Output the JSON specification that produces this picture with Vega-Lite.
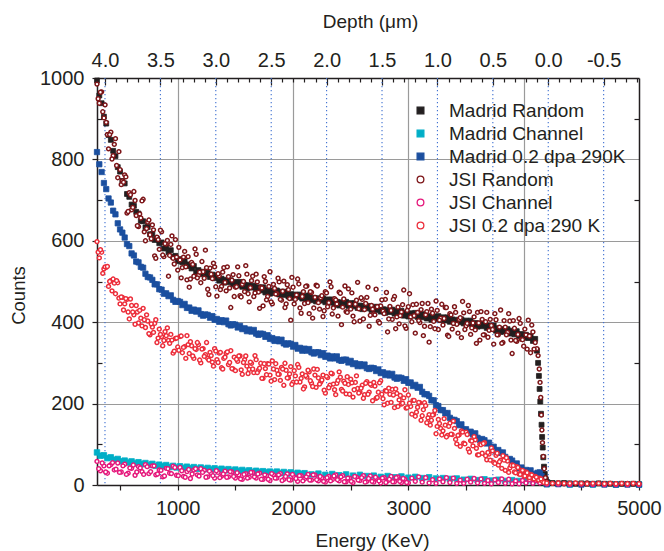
{
"$schema": "https://vega.github.io/schema/vega-lite/v6.json",
"width": 542, "height": 407,
"autosize": "none",
"padding": {"left": 97, "top": 78, "right": 25, "bottom": 66},
"config": {
  "font": "Liberation Sans",
  "view": {"stroke": null},
  "axis": {"domainColor": "#231f20", "domainWidth": 1.5, "tickColor": "#231f20", "tickWidth": 1.2, "labelFont": "Liberation Sans", "labelFontSize": 20, "labelColor": "#231f20", "titleFont": "Liberation Sans", "titleFontSize": 19, "titleFontWeight": "normal", "titleColor": "#231f20", "grid": false, "labelFlush": false, "labelOverlap": false, "labelBound": false}
},
"datasets": {
"depth": [{"d":4.0},{"d":3.5},{"d":3.0},{"d":2.5},{"d":2.0},{"d":1.5},{"d":1.0},{"d":0.5},{"d":0.0},{"d":-0.5}],
"mr": [{"e":300,"c":994},{"e":320,"c":957},{"e":340,"c":938},{"e":360,"c":905},{"e":380,"c":888},{"e":400,"c":860},{"e":420,"c":848},{"e":440,"c":821},{"e":460,"c":808},{"e":480,"c":781},{"e":500,"c":770},{"e":520,"c":747},{"e":540,"c":741},{"e":560,"c":715},{"e":580,"c":708},{"e":600,"c":689},{"e":620,"c":686},{"e":640,"c":671},{"e":660,"c":667},{"e":680,"c":649},{"e":700,"c":648},{"e":720,"c":633},{"e":740,"c":634},{"e":760,"c":616},{"e":780,"c":616},{"e":800,"c":602},{"e":820,"c":605},{"e":840,"c":594},{"e":860,"c":596},{"e":880,"c":581},{"e":900,"c":584},{"e":920,"c":572},{"e":940,"c":577},{"e":960,"c":561},{"e":980,"c":563},{"e":1000,"c":550},{"e":1020,"c":555},{"e":1040,"c":547},{"e":1060,"c":550},{"e":1080,"c":538},{"e":1100,"c":542},{"e":1120,"c":532},{"e":1140,"c":538},{"e":1160,"c":524},{"e":1180,"c":528},{"e":1200,"c":518},{"e":1220,"c":524},{"e":1240,"c":517},{"e":1260,"c":522},{"e":1280,"c":511},{"e":1300,"c":517},{"e":1320,"c":508},{"e":1340,"c":515},{"e":1360,"c":502},{"e":1380,"c":507},{"e":1400,"c":497},{"e":1420,"c":504},{"e":1440,"c":498},{"e":1460,"c":503},{"e":1480,"c":493},{"e":1500,"c":499},{"e":1520,"c":491},{"e":1540,"c":499},{"e":1560,"c":487},{"e":1580,"c":492},{"e":1600,"c":483},{"e":1620,"c":491},{"e":1640,"c":485},{"e":1660,"c":490},{"e":1680,"c":480},{"e":1700,"c":486},{"e":1720,"c":478},{"e":1740,"c":486},{"e":1760,"c":473},{"e":1780,"c":479},{"e":1800,"c":470},{"e":1820,"c":478},{"e":1840,"c":472},{"e":1860,"c":478},{"e":1880,"c":468},{"e":1900,"c":475},{"e":1920,"c":467},{"e":1940,"c":475},{"e":1960,"c":463},{"e":1980,"c":469},{"e":2000,"c":460},{"e":2020,"c":468},{"e":2040,"c":462},{"e":2060,"c":468},{"e":2080,"c":458},{"e":2100,"c":465},{"e":2120,"c":457},{"e":2140,"c":466},{"e":2160,"c":454},{"e":2180,"c":460},{"e":2200,"c":451},{"e":2220,"c":459},{"e":2240,"c":453},{"e":2260,"c":459},{"e":2280,"c":449},{"e":2300,"c":456},{"e":2320,"c":448},{"e":2340,"c":456},{"e":2360,"c":444},{"e":2380,"c":450},{"e":2400,"c":441},{"e":2420,"c":449},{"e":2440,"c":443},{"e":2460,"c":450},{"e":2480,"c":440},{"e":2500,"c":447},{"e":2520,"c":439},{"e":2540,"c":447},{"e":2560,"c":435},{"e":2580,"c":441},{"e":2600,"c":432},{"e":2620,"c":440},{"e":2640,"c":434},{"e":2660,"c":440},{"e":2680,"c":430},{"e":2700,"c":438},{"e":2720,"c":430},{"e":2740,"c":438},{"e":2760,"c":426},{"e":2780,"c":432},{"e":2800,"c":423},{"e":2820,"c":431},{"e":2840,"c":425},{"e":2860,"c":431},{"e":2880,"c":421},{"e":2900,"c":428},{"e":2920,"c":420},{"e":2940,"c":428},{"e":2960,"c":416},{"e":2980,"c":423},{"e":3000,"c":414},{"e":3020,"c":422},{"e":3040,"c":416},{"e":3060,"c":423},{"e":3080,"c":413},{"e":3100,"c":420},{"e":3120,"c":412},{"e":3140,"c":420},{"e":3160,"c":409},{"e":3180,"c":415},{"e":3200,"c":406},{"e":3220,"c":414},{"e":3240,"c":408},{"e":3260,"c":415},{"e":3280,"c":405},{"e":3300,"c":412},{"e":3320,"c":404},{"e":3340,"c":412},{"e":3360,"c":401},{"e":3380,"c":407},{"e":3400,"c":398},{"e":3420,"c":406},{"e":3440,"c":400},{"e":3460,"c":407},{"e":3480,"c":397},{"e":3500,"c":404},{"e":3520,"c":396},{"e":3540,"c":404},{"e":3560,"c":392},{"e":3580,"c":398},{"e":3600,"c":389},{"e":3620,"c":397},{"e":3640,"c":390},{"e":3660,"c":396},{"e":3680,"c":386},{"e":3700,"c":392},{"e":3720,"c":384},{"e":3740,"c":392},{"e":3760,"c":379},{"e":3780,"c":385},{"e":3800,"c":376},{"e":3820,"c":383},{"e":3840,"c":377},{"e":3860,"c":383},{"e":3880,"c":372},{"e":3900,"c":379},{"e":3920,"c":370},{"e":3940,"c":378},{"e":3960,"c":366},{"e":3980,"c":371},{"e":4000,"c":362},{"e":4020,"c":369},{"e":4040,"c":361},{"e":4060,"c":366},{"e":4080,"c":354},{"e":4100,"c":359},{"e":4115,"c":330},{"e":4125,"c":300},{"e":4132,"c":268},{"e":4138,"c":236},{"e":4144,"c":205},{"e":4150,"c":175},{"e":4155,"c":148},{"e":4160,"c":118},{"e":4165,"c":92},{"e":4170,"c":68},{"e":4176,"c":45},{"e":4183,"c":27},{"e":4192,"c":14},{"e":4205,"c":7},{"e":4250,"c":5},{"e":4300,"c":4},{"e":4350,"c":5},{"e":4400,"c":4},{"e":4450,"c":3},{"e":4500,"c":4},{"e":4550,"c":3},{"e":4600,"c":3},{"e":4650,"c":4},{"e":4700,"c":3},{"e":4750,"c":3},{"e":4800,"c":2},{"e":4850,"c":3},{"e":4900,"c":2},{"e":4950,"c":3},{"e":5000,"c":2}],
"mc": [{"e":300,"c":80},{"e":330,"c":72},{"e":360,"c":73},{"e":390,"c":66},{"e":420,"c":68},{"e":450,"c":62},{"e":480,"c":64},{"e":510,"c":58},{"e":540,"c":60},{"e":570,"c":55},{"e":600,"c":58},{"e":630,"c":53},{"e":660,"c":56},{"e":690,"c":51},{"e":720,"c":54},{"e":750,"c":49},{"e":780,"c":52},{"e":810,"c":47},{"e":840,"c":50},{"e":870,"c":46},{"e":900,"c":49},{"e":930,"c":44},{"e":960,"c":47},{"e":990,"c":43},{"e":1020,"c":46},{"e":1050,"c":42},{"e":1080,"c":45},{"e":1110,"c":41},{"e":1140,"c":44},{"e":1170,"c":40},{"e":1200,"c":43},{"e":1230,"c":39},{"e":1260,"c":42},{"e":1290,"c":38},{"e":1320,"c":41},{"e":1350,"c":37},{"e":1380,"c":40},{"e":1410,"c":36},{"e":1440,"c":39},{"e":1470,"c":35},{"e":1500,"c":38},{"e":1530,"c":34},{"e":1560,"c":37},{"e":1590,"c":33},{"e":1620,"c":36},{"e":1650,"c":32},{"e":1680,"c":35},{"e":1710,"c":32},{"e":1740,"c":34},{"e":1770,"c":31},{"e":1800,"c":33},{"e":1830,"c":30},{"e":1860,"c":33},{"e":1890,"c":29},{"e":1920,"c":32},{"e":1950,"c":28},{"e":1980,"c":31},{"e":2010,"c":27},{"e":2040,"c":30},{"e":2070,"c":27},{"e":2100,"c":29},{"e":2160,"c":26},{"e":2220,"c":28},{"e":2280,"c":25},{"e":2340,"c":27},{"e":2400,"c":24},{"e":2460,"c":26},{"e":2520,"c":23},{"e":2580,"c":25},{"e":2640,"c":22},{"e":2700,"c":23},{"e":2760,"c":20},{"e":2820,"c":22},{"e":2880,"c":19},{"e":2940,"c":21},{"e":3000,"c":18},{"e":3060,"c":20},{"e":3120,"c":17},{"e":3180,"c":19},{"e":3240,"c":16},{"e":3300,"c":17},{"e":3360,"c":15},{"e":3420,"c":16},{"e":3480,"c":13},{"e":3540,"c":15},{"e":3600,"c":12},{"e":3660,"c":14},{"e":3720,"c":11},{"e":3780,"c":13},{"e":3840,"c":10},{"e":3900,"c":12},{"e":3960,"c":10},{"e":4020,"c":11},{"e":4080,"c":9},{"e":4140,"c":10},{"e":4200,"c":2},{"e":4400,"c":1},{"e":4600,"c":1},{"e":4800,"c":1},{"e":5000,"c":1}],
"md": [{"e":300,"c":818},{"e":320,"c":788},{"e":340,"c":769},{"e":360,"c":742},{"e":380,"c":727},{"e":400,"c":704},{"e":420,"c":694},{"e":440,"c":674},{"e":460,"c":665},{"e":480,"c":643},{"e":500,"c":628},{"e":520,"c":620},{"e":540,"c":608},{"e":560,"c":592},{"e":580,"c":587},{"e":600,"c":569},{"e":620,"c":564},{"e":640,"c":549},{"e":660,"c":547},{"e":680,"c":536},{"e":700,"c":534},{"e":720,"c":519},{"e":740,"c":511},{"e":760,"c":510},{"e":780,"c":504},{"e":800,"c":493},{"e":820,"c":493},{"e":840,"c":481},{"e":860,"c":480},{"e":880,"c":470},{"e":900,"c":471},{"e":920,"c":464},{"e":940,"c":466},{"e":960,"c":455},{"e":980,"c":450},{"e":1000,"c":452},{"e":1020,"c":450},{"e":1040,"c":442},{"e":1060,"c":445},{"e":1080,"c":435},{"e":1100,"c":436},{"e":1120,"c":428},{"e":1140,"c":431},{"e":1160,"c":426},{"e":1180,"c":429},{"e":1200,"c":420},{"e":1220,"c":416},{"e":1240,"c":419},{"e":1260,"c":418},{"e":1280,"c":411},{"e":1300,"c":415},{"e":1320,"c":406},{"e":1340,"c":408},{"e":1360,"c":401},{"e":1380,"c":405},{"e":1400,"c":400},{"e":1420,"c":404},{"e":1440,"c":395},{"e":1460,"c":392},{"e":1480,"c":395},{"e":1500,"c":394},{"e":1520,"c":387},{"e":1540,"c":391},{"e":1560,"c":383},{"e":1580,"c":385},{"e":1600,"c":378},{"e":1620,"c":382},{"e":1640,"c":377},{"e":1660,"c":381},{"e":1680,"c":372},{"e":1700,"c":369},{"e":1720,"c":372},{"e":1740,"c":371},{"e":1760,"c":364},{"e":1780,"c":368},{"e":1800,"c":359},{"e":1820,"c":361},{"e":1840,"c":354},{"e":1860,"c":358},{"e":1880,"c":353},{"e":1900,"c":357},{"e":1920,"c":348},{"e":1940,"c":345},{"e":1960,"c":348},{"e":1980,"c":347},{"e":2000,"c":340},{"e":2020,"c":344},{"e":2040,"c":335},{"e":2060,"c":337},{"e":2080,"c":330},{"e":2100,"c":335},{"e":2120,"c":330},{"e":2140,"c":334},{"e":2160,"c":326},{"e":2180,"c":323},{"e":2200,"c":326},{"e":2220,"c":326},{"e":2240,"c":319},{"e":2260,"c":324},{"e":2280,"c":315},{"e":2300,"c":318},{"e":2320,"c":311},{"e":2340,"c":316},{"e":2360,"c":311},{"e":2380,"c":316},{"e":2400,"c":307},{"e":2420,"c":305},{"e":2440,"c":308},{"e":2460,"c":308},{"e":2480,"c":301},{"e":2500,"c":305},{"e":2520,"c":297},{"e":2540,"c":299},{"e":2560,"c":292},{"e":2580,"c":297},{"e":2600,"c":292},{"e":2620,"c":296},{"e":2640,"c":287},{"e":2660,"c":285},{"e":2680,"c":288},{"e":2700,"c":287},{"e":2720,"c":280},{"e":2740,"c":284},{"e":2760,"c":275},{"e":2780,"c":277},{"e":2800,"c":270},{"e":2820,"c":274},{"e":2840,"c":269},{"e":2860,"c":273},{"e":2880,"c":264},{"e":2900,"c":261},{"e":2920,"c":264},{"e":2940,"c":263},{"e":2960,"c":256},{"e":2980,"c":260},{"e":3000,"c":251},{"e":3020,"c":252},{"e":3040,"c":243},{"e":3060,"c":246},{"e":3080,"c":239},{"e":3100,"c":241},{"e":3120,"c":229},{"e":3140,"c":223},{"e":3160,"c":223},{"e":3180,"c":219},{"e":3200,"c":208},{"e":3220,"c":208},{"e":3240,"c":196},{"e":3260,"c":194},{"e":3280,"c":184},{"e":3300,"c":184},{"e":3320,"c":176},{"e":3340,"c":177},{"e":3360,"c":165},{"e":3380,"c":160},{"e":3400,"c":160},{"e":3420,"c":157},{"e":3440,"c":147},{"e":3460,"c":149},{"e":3480,"c":136},{"e":3500,"c":137},{"e":3520,"c":128},{"e":3540,"c":131},{"e":3560,"c":124},{"e":3580,"c":127},{"e":3600,"c":116},{"e":3620,"c":111},{"e":3640,"c":113},{"e":3660,"c":110},{"e":3680,"c":102},{"e":3700,"c":104},{"e":3720,"c":92},{"e":3740,"c":94},{"e":3760,"c":84},{"e":3780,"c":86},{"e":3800,"c":79},{"e":3820,"c":80},{"e":3840,"c":69},{"e":3860,"c":63},{"e":3880,"c":64},{"e":3900,"c":60},{"e":3920,"c":51},{"e":3940,"c":53},{"e":3960,"c":41},{"e":3980,"c":43},{"e":4000,"c":33},{"e":4020,"c":37},{"e":4040,"c":32},{"e":4060,"c":36},{"e":4080,"c":27},{"e":4100,"c":24},{"e":4120,"c":30},{"e":4140,"c":31},{"e":4155,"c":22},{"e":4165,"c":8},{"e":4200,"c":2},{"e":4300,"c":2},{"e":4400,"c":2},{"e":4500,"c":1},{"e":4600,"c":2},{"e":4700,"c":1},{"e":4800,"c":1},{"e":4900,"c":1},{"e":5000,"c":1}],
"jr": [{"e":300,"c":985},{"e":320,"c":938},{"e":340,"c":966},{"e":360,"c":902},{"e":380,"c":891},{"e":400,"c":826},{"e":420,"c":867},{"e":440,"c":809},{"e":460,"c":851},{"e":480,"c":755},{"e":500,"c":775},{"e":520,"c":747},{"e":540,"c":762},{"e":560,"c":668},{"e":580,"c":718},{"e":600,"c":676},{"e":620,"c":721},{"e":640,"c":662},{"e":660,"c":635},{"e":680,"c":656},{"e":700,"c":702},{"e":720,"c":600},{"e":740,"c":646},{"e":760,"c":615},{"e":780,"c":639},{"e":800,"c":563},{"e":820,"c":609},{"e":840,"c":579},{"e":860,"c":622},{"e":880,"c":561},{"e":900,"c":592},{"e":920,"c":513},{"e":940,"c":591},{"e":960,"c":557},{"e":980,"c":603},{"e":1000,"c":528},{"e":1020,"c":553},{"e":1040,"c":534},{"e":1060,"c":574},{"e":1080,"c":504},{"e":1100,"c":486},{"e":1120,"c":547},{"e":1140,"c":513},{"e":1160,"c":567},{"e":1180,"c":515},{"e":1200,"c":497},{"e":1220,"c":524},{"e":1240,"c":577},{"e":1260,"c":481},{"e":1280,"c":533},{"e":1300,"c":507},{"e":1320,"c":536},{"e":1340,"c":464},{"e":1360,"c":514},{"e":1380,"c":488},{"e":1400,"c":534},{"e":1420,"c":477},{"e":1440,"c":512},{"e":1460,"c":436},{"e":1480,"c":517},{"e":1500,"c":486},{"e":1520,"c":536},{"e":1540,"c":465},{"e":1560,"c":493},{"e":1580,"c":475},{"e":1600,"c":518},{"e":1620,"c":450},{"e":1640,"c":502},{"e":1660,"c":463},{"e":1680,"c":518},{"e":1700,"c":474},{"e":1720,"c":486},{"e":1740,"c":440},{"e":1760,"c":500},{"e":1780,"c":463},{"e":1800,"c":524},{"e":1820,"c":445},{"e":1840,"c":483},{"e":1860,"c":470},{"e":1880,"c":499},{"e":1900,"c":454},{"e":1920,"c":501},{"e":1940,"c":445},{"e":1960,"c":480},{"e":1980,"c":405},{"e":2000,"c":486},{"e":2020,"c":456},{"e":2040,"c":506},{"e":2060,"c":435},{"e":2080,"c":463},{"e":2100,"c":446},{"e":2120,"c":489},{"e":2140,"c":421},{"e":2160,"c":473},{"e":2180,"c":435},{"e":2200,"c":491},{"e":2220,"c":448},{"e":2240,"c":460},{"e":2260,"c":414},{"e":2280,"c":475},{"e":2300,"c":438},{"e":2320,"c":499},{"e":2340,"c":420},{"e":2360,"c":458},{"e":2380,"c":445},{"e":2400,"c":474},{"e":2420,"c":394},{"e":2440,"c":457},{"e":2460,"c":426},{"e":2480,"c":482},{"e":2500,"c":432},{"e":2520,"c":415},{"e":2540,"c":444},{"e":2560,"c":498},{"e":2580,"c":403},{"e":2600,"c":456},{"e":2620,"c":431},{"e":2640,"c":461},{"e":2660,"c":390},{"e":2680,"c":441},{"e":2700,"c":420},{"e":2720,"c":481},{"e":2740,"c":402},{"e":2760,"c":440},{"e":2780,"c":427},{"e":2800,"c":456},{"e":2820,"c":376},{"e":2840,"c":439},{"e":2860,"c":407},{"e":2880,"c":463},{"e":2900,"c":413},{"e":2920,"c":396},{"e":2940,"c":425},{"e":2960,"c":479},{"e":2980,"c":385},{"e":3000,"c":438},{"e":3020,"c":413},{"e":3040,"c":443},{"e":3060,"c":373},{"e":3080,"c":424},{"e":3100,"c":399},{"e":3120,"c":446},{"e":3140,"c":390},{"e":3160,"c":426},{"e":3180,"c":351},{"e":3200,"c":432},{"e":3220,"c":402},{"e":3240,"c":452},{"e":3260,"c":382},{"e":3280,"c":410},{"e":3300,"c":393},{"e":3320,"c":436},{"e":3340,"c":368},{"e":3360,"c":421},{"e":3380,"c":383},{"e":3400,"c":438},{"e":3420,"c":395},{"e":3440,"c":407},{"e":3460,"c":362},{"e":3480,"c":423},{"e":3500,"c":391},{"e":3520,"c":441},{"e":3540,"c":370},{"e":3560,"c":398},{"e":3580,"c":381},{"e":3600,"c":424},{"e":3620,"c":356},{"e":3640,"c":407},{"e":3660,"c":369},{"e":3680,"c":424},{"e":3700,"c":380},{"e":3720,"c":392},{"e":3740,"c":346},{"e":3760,"c":406},{"e":3780,"c":369},{"e":3800,"c":430},{"e":3820,"c":350},{"e":3840,"c":388},{"e":3860,"c":375},{"e":3880,"c":403},{"e":3900,"c":323},{"e":3920,"c":385},{"e":3940,"c":353},{"e":3960,"c":409},{"e":3980,"c":358},{"e":4000,"c":341},{"e":4020,"c":369},{"e":4040,"c":405},{"e":4060,"c":325},{"e":4080,"c":376},{"e":4100,"c":350},{"e":4115,"c":335},{"e":4125,"c":318},{"e":4135,"c":285},{"e":4142,"c":252},{"e":4148,"c":215},{"e":4153,"c":172},{"e":4158,"c":135},{"e":4163,"c":104},{"e":4170,"c":70},{"e":4178,"c":40},{"e":4188,"c":18},{"e":4200,"c":8},{"e":4250,"c":4},{"e":4300,"c":5},{"e":4350,"c":3},{"e":4400,"c":4},{"e":4450,"c":4},{"e":4500,"c":3},{"e":4550,"c":5},{"e":4600,"c":3},{"e":4650,"c":4},{"e":4700,"c":3},{"e":4750,"c":4},{"e":4800,"c":3},{"e":4850,"c":3},{"e":4900,"c":4},{"e":4950,"c":3},{"e":5000,"c":3},
{"e":310,"c":949},{"e":330,"c":965},{"e":350,"c":917},{"e":370,"c":934},{"e":390,"c":861},{"e":410,"c":861},{"e":430,"c":801},{"e":450,"c":837},{"e":470,"c":785},{"e":490,"c":819},{"e":510,"c":738},{"e":530,"c":744},{"e":550,"c":757},{"e":570,"c":672},{"e":590,"c":713},{"e":610,"c":682},{"e":630,"c":699},{"e":650,"c":637},{"e":670,"c":666},{"e":690,"c":698},{"e":710,"c":622},{"e":730,"c":630},{"e":750,"c":651},{"e":770,"c":605},{"e":790,"c":627},{"e":810,"c":557},{"e":830,"c":603},{"e":850,"c":626},{"e":870,"c":565},{"e":890,"c":593},{"e":910,"c":601},{"e":930,"c":564},{"e":950,"c":612},{"e":970,"c":543},{"e":990,"c":560},{"e":1010,"c":584},{"e":1030,"c":509},{"e":1050,"c":560},{"e":1070,"c":536},{"e":1090,"c":561},{"e":1110,"c":506},{"e":1130,"c":542},{"e":1150,"c":580},{"e":1170,"c":509},{"e":1190,"c":523},{"e":1210,"c":549},{"e":1230,"c":508},{"e":1250,"c":534},{"e":1270,"c":468},{"e":1290,"c":518},{"e":1310,"c":545},{"e":1330,"c":487},{"e":1350,"c":519},{"e":1370,"c":480},{"e":1390,"c":523},{"e":1410,"c":498},{"e":1430,"c":536},{"e":1450,"c":484},{"e":1470,"c":503},{"e":1490,"c":463},{"e":1510,"c":487},{"e":1530,"c":514},{"e":1550,"c":462},{"e":1570,"c":500},{"e":1590,"c":539},{"e":1610,"c":470},{"e":1630,"c":485},{"e":1650,"c":513},{"e":1670,"c":472},{"e":1690,"c":499},{"e":1710,"c":434},{"e":1730,"c":484},{"e":1750,"c":512},{"e":1770,"c":455},{"e":1790,"c":488},{"e":1810,"c":450},{"e":1830,"c":493},{"e":1850,"c":469},{"e":1870,"c":508},{"e":1890,"c":456},{"e":1910,"c":476},{"e":1930,"c":436},{"e":1950,"c":492},{"e":1970,"c":458},{"e":1990,"c":510},{"e":2010,"c":445},{"e":2030,"c":467},{"e":2050,"c":494},{"e":2070,"c":422},{"e":2090,"c":475},{"e":2110,"c":488},{"e":2130,"c":448},{"e":2150,"c":475},{"e":2170,"c":410},{"e":2190,"c":461},{"e":2210,"c":489},{"e":2230,"c":432},{"e":2250,"c":465},{"e":2270,"c":428},{"e":2290,"c":472},{"e":2310,"c":448},{"e":2330,"c":487},{"e":2350,"c":435},{"e":2370,"c":455},{"e":2390,"c":415},{"e":2410,"c":471},{"e":2430,"c":437},{"e":2450,"c":489},{"e":2470,"c":424},{"e":2490,"c":445},{"e":2510,"c":472},{"e":2530,"c":401},{"e":2550,"c":454},{"e":2570,"c":433},{"e":2590,"c":460},{"e":2610,"c":408},{"e":2630,"c":446},{"e":2650,"c":486},{"e":2670,"c":417},{"e":2690,"c":432},{"e":2710,"c":418},{"e":2730,"c":438},{"e":2750,"c":398},{"e":2770,"c":455},{"e":2790,"c":421},{"e":2810,"c":473},{"e":2830,"c":408},{"e":2850,"c":429},{"e":2870,"c":456},{"e":2890,"c":384},{"e":2910,"c":437},{"e":2930,"c":416},{"e":2950,"c":443},{"e":2970,"c":391},{"e":2990,"c":429},{"e":3010,"c":470},{"e":3030,"c":401},{"e":3050,"c":416},{"e":3070,"c":444},{"e":3090,"c":404},{"e":3110,"c":431},{"e":3130,"c":367},{"e":3150,"c":418},{"e":3170,"c":446},{"e":3190,"c":389},{"e":3210,"c":422},{"e":3230,"c":384},{"e":3250,"c":429},{"e":3270,"c":405},{"e":3290,"c":444},{"e":3310,"c":409},{"e":3330,"c":436},{"e":3350,"c":365},{"e":3370,"c":418},{"e":3390,"c":397},{"e":3410,"c":424},{"e":3430,"c":373},{"e":3450,"c":411},{"e":3470,"c":451},{"e":3490,"c":382},{"e":3510,"c":397},{"e":3530,"c":426},{"e":3550,"c":386},{"e":3570,"c":413},{"e":3590,"c":348},{"e":3610,"c":398},{"e":3630,"c":426},{"e":3650,"c":369},{"e":3670,"c":401},{"e":3690,"c":363},{"e":3710,"c":407},{"e":3730,"c":382},{"e":3750,"c":421},{"e":3770,"c":369},{"e":3790,"c":388},{"e":3810,"c":348},{"e":3830,"c":404},{"e":3850,"c":369},{"e":3870,"c":421},{"e":3890,"c":356},{"e":3910,"c":404},{"e":3930,"c":355},{"e":3950,"c":370},{"e":3970,"c":397},{"e":3990,"c":357},{"e":4010,"c":383},{"e":4030,"c":334},{"e":4050,"c":366},{"e":4070,"c":393},{"e":4090,"c":334}],
"jc": [{"e":300,"c":58},{"e":330,"c":35},{"e":360,"c":47},{"e":390,"c":29},{"e":420,"c":50},{"e":450,"c":37},{"e":480,"c":54},{"e":510,"c":32},{"e":540,"c":51},{"e":570,"c":29},{"e":600,"c":41},{"e":630,"c":24},{"e":660,"c":45},{"e":690,"c":33},{"e":720,"c":50},{"e":750,"c":28},{"e":780,"c":47},{"e":810,"c":25},{"e":840,"c":37},{"e":870,"c":20},{"e":900,"c":41},{"e":930,"c":29},{"e":960,"c":46},{"e":990,"c":24},{"e":1020,"c":43},{"e":1050,"c":21},{"e":1080,"c":33},{"e":1110,"c":16},{"e":1140,"c":37},{"e":1170,"c":25},{"e":1200,"c":40},{"e":1230,"c":36},{"e":1260,"c":20},{"e":1290,"c":29},{"e":1320,"c":17},{"e":1350,"c":31},{"e":1380,"c":22},{"e":1410,"c":34},{"e":1440,"c":20},{"e":1470,"c":32},{"e":1500,"c":17},{"e":1530,"c":25},{"e":1560,"c":14},{"e":1590,"c":28},{"e":1620,"c":19},{"e":1650,"c":31},{"e":1680,"c":17},{"e":1710,"c":29},{"e":1740,"c":14},{"e":1770,"c":23},{"e":1800,"c":11},{"e":1830,"c":25},{"e":1860,"c":17},{"e":1890,"c":28},{"e":1920,"c":14},{"e":1950,"c":27},{"e":1980,"c":12},{"e":2010,"c":20},{"e":2040,"c":9},{"e":2070,"c":23},{"e":2100,"c":15},{"e":2130,"c":26},{"e":2160,"c":12},{"e":2190,"c":25},{"e":2220,"c":10},{"e":2250,"c":18},{"e":2280,"c":7},{"e":2310,"c":21},{"e":2340,"c":13},{"e":2370,"c":25},{"e":2400,"c":10},{"e":2430,"c":23},{"e":2460,"c":8},{"e":2490,"c":17},{"e":2520,"c":6},{"e":2550,"c":19},{"e":2580,"c":11},{"e":2610,"c":23},{"e":2640,"c":9},{"e":2670,"c":22},{"e":2700,"c":7},{"e":2730,"c":15},{"e":2760,"c":5},{"e":2790,"c":18},{"e":2820,"c":10},{"e":2850,"c":21},{"e":2880,"c":8},{"e":2910,"c":20},{"e":2940,"c":6},{"e":2970,"c":14},{"e":3000,"c":5},{"e":3030,"c":17},{"e":3060,"c":9},{"e":3090,"c":20},{"e":3120,"c":7},{"e":3150,"c":18},{"e":3180,"c":5},{"e":3210,"c":13},{"e":3240,"c":4},{"e":3270,"c":15},{"e":3300,"c":8},{"e":3330,"c":18},{"e":3360,"c":6},{"e":3390,"c":17},{"e":3420,"c":4},{"e":3450,"c":12},{"e":3480,"c":4},{"e":3510,"c":14},{"e":3540,"c":7},{"e":3570,"c":16},{"e":3600,"c":5},{"e":3630,"c":15},{"e":3660,"c":4},{"e":3690,"c":11},{"e":3720,"c":3},{"e":3750,"c":13},{"e":3780,"c":6},{"e":3810,"c":15},{"e":3840,"c":4},{"e":3870,"c":14},{"e":3900,"c":3},{"e":3930,"c":10},{"e":3960,"c":3},{"e":3990,"c":11},{"e":4020,"c":5},{"e":4050,"c":13},{"e":4080,"c":4},{"e":4110,"c":11},{"e":4140,"c":5},{"e":4200,"c":2},{"e":4300,"c":2},{"e":4400,"c":1},{"e":4500,"c":2},{"e":4600,"c":1},{"e":4700,"c":1},{"e":4800,"c":1},{"e":4900,"c":1},{"e":5000,"c":1},
{"e":315,"c":40},{"e":345,"c":54},{"e":375,"c":32},{"e":405,"c":47},{"e":435,"c":55},{"e":465,"c":39},{"e":495,"c":31},{"e":525,"c":47},{"e":555,"c":26},{"e":585,"c":42},{"e":615,"c":49},{"e":645,"c":32},{"e":675,"c":42},{"e":705,"c":26},{"e":735,"c":45},{"e":765,"c":33},{"e":795,"c":47},{"e":825,"c":27},{"e":855,"c":36},{"e":885,"c":22},{"e":915,"c":40},{"e":945,"c":28},{"e":975,"c":43},{"e":1005,"c":23},{"e":1035,"c":35},{"e":1065,"c":19},{"e":1095,"c":38},{"e":1125,"c":27},{"e":1155,"c":40},{"e":1185,"c":22},{"e":1215,"c":31},{"e":1245,"c":19},{"e":1275,"c":34},{"e":1305,"c":23},{"e":1335,"c":35},{"e":1365,"c":18},{"e":1395,"c":27},{"e":1425,"c":19},{"e":1455,"c":33},{"e":1485,"c":21},{"e":1515,"c":30},{"e":1545,"c":15},{"e":1575,"c":26},{"e":1605,"c":17},{"e":1635,"c":31},{"e":1665,"c":20},{"e":1695,"c":27},{"e":1725,"c":14},{"e":1755,"c":25},{"e":1785,"c":14},{"e":1815,"c":28},{"e":1845,"c":17},{"e":1875,"c":25},{"e":1905,"c":11},{"e":1935,"c":21},{"e":1965,"c":13},{"e":1995,"c":26},{"e":2025,"c":16},{"e":2055,"c":23},{"e":2085,"c":10},{"e":2115,"c":20},{"e":2145,"c":12},{"e":2175,"c":25},{"e":2205,"c":13},{"e":2235,"c":21},{"e":2265,"c":9},{"e":2295,"c":18},{"e":2325,"c":10},{"e":2355,"c":22},{"e":2385,"c":13},{"e":2415,"c":20},{"e":2445,"c":8},{"e":2475,"c":17},{"e":2505,"c":9},{"e":2535,"c":21},{"e":2565,"c":12},{"e":2595,"c":18},{"e":2625,"c":7},{"e":2655,"c":16},{"e":2685,"c":9},{"e":2715,"c":19},{"e":2745,"c":10},{"e":2775,"c":17},{"e":2805,"c":6},{"e":2835,"c":14},{"e":2865,"c":8},{"e":2895,"c":18},{"e":2925,"c":9},{"e":2955,"c":16},{"e":2985,"c":6}],
"jd": [{"e":300,"c":598},{"e":320,"c":558},{"e":340,"c":572},{"e":360,"c":531},{"e":380,"c":535},{"e":400,"c":488},{"e":420,"c":502},{"e":440,"c":506},{"e":460,"c":470},{"e":480,"c":497},{"e":500,"c":445},{"e":520,"c":461},{"e":540,"c":445},{"e":560,"c":456},{"e":580,"c":408},{"e":600,"c":441},{"e":620,"c":418},{"e":640,"c":441},{"e":660,"c":398},{"e":680,"c":410},{"e":700,"c":434},{"e":720,"c":387},{"e":740,"c":403},{"e":760,"c":369},{"e":780,"c":388},{"e":800,"c":397},{"e":820,"c":350},{"e":840,"c":383},{"e":860,"c":365},{"e":880,"c":355},{"e":900,"c":367},{"e":920,"c":355},{"e":940,"c":370},{"e":960,"c":324},{"e":980,"c":360},{"e":1000,"c":339},{"e":1020,"c":365},{"e":1040,"c":325},{"e":1060,"c":340},{"e":1080,"c":367},{"e":1100,"c":323},{"e":1120,"c":342},{"e":1140,"c":311},{"e":1160,"c":333},{"e":1180,"c":345},{"e":1200,"c":300},{"e":1220,"c":335},{"e":1240,"c":320},{"e":1260,"c":311},{"e":1280,"c":326},{"e":1300,"c":302},{"e":1320,"c":335},{"e":1340,"c":308},{"e":1360,"c":324},{"e":1380,"c":288},{"e":1400,"c":311},{"e":1420,"c":324},{"e":1440,"c":296},{"e":1460,"c":330},{"e":1480,"c":285},{"e":1500,"c":281},{"e":1520,"c":304},{"e":1540,"c":317},{"e":1560,"c":272},{"e":1580,"c":308},{"e":1600,"c":292},{"e":1620,"c":284},{"e":1640,"c":299},{"e":1660,"c":276},{"e":1680,"c":308},{"e":1700,"c":282},{"e":1720,"c":299},{"e":1740,"c":262},{"e":1760,"c":286},{"e":1780,"c":298},{"e":1800,"c":270},{"e":1820,"c":305},{"e":1840,"c":259},{"e":1860,"c":282},{"e":1880,"c":272},{"e":1900,"c":289},{"e":1920,"c":245},{"e":1940,"c":282},{"e":1960,"c":263},{"e":1980,"c":291},{"e":2000,"c":252},{"e":2020,"c":268},{"e":2040,"c":296},{"e":2060,"c":253},{"e":2080,"c":273},{"e":2100,"c":241},{"e":2120,"c":265},{"e":2140,"c":278},{"e":2160,"c":250},{"e":2180,"c":285},{"e":2200,"c":240},{"e":2220,"c":263},{"e":2240,"c":253},{"e":2260,"c":270},{"e":2280,"c":226},{"e":2300,"c":264},{"e":2320,"c":245},{"e":2340,"c":273},{"e":2360,"c":234},{"e":2380,"c":250},{"e":2400,"c":278},{"e":2420,"c":235},{"e":2440,"c":255},{"e":2460,"c":224},{"e":2480,"c":247},{"e":2500,"c":260},{"e":2520,"c":216},{"e":2540,"c":252},{"e":2560,"c":237},{"e":2580,"c":229},{"e":2600,"c":245},{"e":2620,"c":222},{"e":2640,"c":254},{"e":2660,"c":228},{"e":2680,"c":245},{"e":2700,"c":252},{"e":2720,"c":213},{"e":2740,"c":228},{"e":2760,"c":256},{"e":2780,"c":212},{"e":2800,"c":232},{"e":2820,"c":201},{"e":2840,"c":223},{"e":2860,"c":235},{"e":2880,"c":190},{"e":2900,"c":225},{"e":2920,"c":209},{"e":2940,"c":199},{"e":2960,"c":214},{"e":2980,"c":189},{"e":3000,"c":221},{"e":3020,"c":193},{"e":3040,"c":208},{"e":3060,"c":169},{"e":3080,"c":191},{"e":3100,"c":202},{"e":3120,"c":170},{"e":3140,"c":202},{"e":3160,"c":153},{"e":3180,"c":173},{"e":3200,"c":159},{"e":3220,"c":173},{"e":3240,"c":126},{"e":3260,"c":161},{"e":3280,"c":139},{"e":3300,"c":133},{"e":3320,"c":147},{"e":3340,"c":122},{"e":3360,"c":152},{"e":3380,"c":124},{"e":3400,"c":139},{"e":3420,"c":101},{"e":3440,"c":123},{"e":3460,"c":133},{"e":3480,"c":103},{"e":3500,"c":130},{"e":3520,"c":88},{"e":3540,"c":109},{"e":3560,"c":96},{"e":3580,"c":111},{"e":3600,"c":74},{"e":3620,"c":100},{"e":3640,"c":78},{"e":3660,"c":104},{"e":3680,"c":62},{"e":3700,"c":76},{"e":3720,"c":91},{"e":3740,"c":56},{"e":3760,"c":73},{"e":3780,"c":49},{"e":3800,"c":61},{"e":3820,"c":72},{"e":3840,"c":36},{"e":3860,"c":59},{"e":3880,"c":42},{"e":3900,"c":49},{"e":3920,"c":32},{"e":3940,"c":45},{"e":3960,"c":27},{"e":3980,"c":36},{"e":4000,"c":23},{"e":4020,"c":32},{"e":4040,"c":18},{"e":4060,"c":26},{"e":4080,"c":16},{"e":4100,"c":21},{"e":4120,"c":13},{"e":4140,"c":17},{"e":4160,"c":10},{"e":4175,"c":6},{"e":4200,"c":5},{"e":4250,"c":4},{"e":4300,"c":5},{"e":4350,"c":4},{"e":4400,"c":4},{"e":4450,"c":5},{"e":4500,"c":4},{"e":4550,"c":3},{"e":4600,"c":4},{"e":4650,"c":4},{"e":4700,"c":3},{"e":4750,"c":4},{"e":4800,"c":3},{"e":4850,"c":4},{"e":4900,"c":3},{"e":4950,"c":4},{"e":5000,"c":3},
{"e":310,"c":572},{"e":330,"c":578},{"e":350,"c":520},{"e":370,"c":536},{"e":390,"c":537},{"e":410,"c":500},{"e":430,"c":477},{"e":450,"c":496},{"e":470,"c":502},{"e":490,"c":459},{"e":510,"c":462},{"e":530,"c":430},{"e":550,"c":458},{"e":570,"c":425},{"e":590,"c":457},{"e":610,"c":425},{"e":630,"c":395},{"e":650,"c":425},{"e":670,"c":429},{"e":690,"c":391},{"e":710,"c":406},{"e":730,"c":418},{"e":750,"c":372},{"e":770,"c":396},{"e":790,"c":375},{"e":810,"c":406},{"e":830,"c":361},{"e":850,"c":370},{"e":870,"c":342},{"e":890,"c":377},{"e":910,"c":386},{"e":930,"c":348},{"e":950,"c":356},{"e":970,"c":329},{"e":990,"c":361},{"e":1010,"c":331},{"e":1030,"c":366},{"e":1050,"c":338},{"e":1070,"c":311},{"e":1090,"c":345},{"e":1110,"c":352},{"e":1130,"c":317},{"e":1150,"c":335},{"e":1170,"c":350},{"e":1190,"c":307},{"e":1210,"c":334},{"e":1230,"c":316},{"e":1250,"c":350},{"e":1270,"c":307},{"e":1290,"c":318},{"e":1310,"c":292},{"e":1330,"c":329},{"e":1350,"c":301},{"e":1370,"c":326},{"e":1390,"c":285},{"e":1410,"c":314},{"e":1430,"c":327},{"e":1450,"c":301},{"e":1470,"c":286},{"e":1490,"c":314},{"e":1510,"c":309},{"e":1530,"c":317},{"e":1550,"c":283},{"e":1570,"c":301},{"e":1590,"c":317},{"e":1610,"c":274},{"e":1630,"c":302},{"e":1650,"c":285},{"e":1670,"c":318},{"e":1690,"c":276},{"e":1710,"c":287},{"e":1730,"c":262},{"e":1750,"c":298},{"e":1770,"c":271},{"e":1790,"c":297},{"e":1810,"c":255},{"e":1830,"c":285},{"e":1850,"c":298},{"e":1870,"c":272},{"e":1890,"c":257},{"e":1910,"c":285},{"e":1930,"c":299},{"e":1950,"c":263},{"e":1970,"c":273},{"e":1990,"c":247},{"e":2010,"c":281},{"e":2030,"c":253},{"e":2050,"c":289},{"e":2070,"c":262},{"e":2090,"c":236},{"e":2110,"c":269},{"e":2130,"c":282},{"e":2150,"c":256},{"e":2170,"c":242},{"e":2190,"c":270},{"e":2210,"c":284},{"e":2230,"c":248},{"e":2250,"c":258},{"e":2270,"c":233},{"e":2290,"c":267},{"e":2310,"c":239},{"e":2330,"c":275},{"e":2350,"c":248},{"e":2370,"c":222},{"e":2390,"c":257},{"e":2410,"c":265},{"e":2430,"c":231},{"e":2450,"c":250},{"e":2470,"c":266},{"e":2490,"c":223},{"e":2510,"c":251},{"e":2530,"c":234},{"e":2550,"c":268},{"e":2570,"c":226},{"e":2590,"c":238},{"e":2610,"c":213},{"e":2630,"c":250},{"e":2650,"c":223},{"e":2670,"c":248},{"e":2690,"c":207},{"e":2710,"c":243},{"e":2730,"c":215},{"e":2750,"c":251},{"e":2770,"c":223},{"e":2790,"c":197},{"e":2810,"c":231},{"e":2830,"c":238},{"e":2850,"c":203},{"e":2870,"c":221},{"e":2890,"c":236},{"e":2910,"c":193},{"e":2930,"c":220},{"e":2950,"c":201},{"e":2970,"c":234},{"e":2990,"c":190},{"e":3010,"c":201},{"e":3030,"c":174},{"e":3050,"c":208},{"e":3070,"c":179},{"e":3090,"c":203},{"e":3110,"c":159},{"e":3130,"c":185},{"e":3150,"c":195},{"e":3170,"c":165},{"e":3190,"c":147},{"e":3210,"c":172},{"e":3230,"c":183},{"e":3250,"c":144},{"e":3270,"c":151},{"e":3290,"c":123},{"e":3310,"c":163},{"e":3330,"c":118},{"e":3350,"c":144},{"e":3370,"c":125},{"e":3390,"c":157},{"e":3410,"c":112},{"e":3430,"c":122},{"e":3450,"c":95},{"e":3470,"c":130},{"e":3490,"c":101},{"e":3510,"c":124},{"e":3530,"c":81},{"e":3550,"c":108},{"e":3570,"c":119},{"e":3590,"c":90},{"e":3610,"c":74},{"e":3630,"c":99},{"e":3650,"c":102},{"e":3670,"c":72},{"e":3690,"c":80},{"e":3710,"c":61},{"e":3730,"c":84},{"e":3750,"c":53},{"e":3770,"c":78},{"e":3790,"c":57},{"e":3810,"c":41},{"e":3830,"c":61},{"e":3850,"c":67},{"e":3870,"c":31},{"e":3890,"c":48},{"e":3910,"c":48},{"e":3930,"c":30},{"e":3950,"c":43},{"e":3970,"c":26},{"e":3990,"c":36},{"e":4010,"c":22},{"e":4030,"c":30},{"e":4050,"c":18},{"e":4070,"c":25},{"e":4090,"c":15},{"e":4110,"c":19},{"e":4130,"c":12},{"e":4150,"c":15}]
},
"layer": [
  {
    "data": {"name": "depth"},
    "mark": {"type": "rule", "color": "#3d6fd1", "strokeDash": [1.2, 2.8], "strokeWidth": 1.1},
    "encoding": {
      "x": {"field": "d", "type": "quantitative",
        "scale": {"domain": [-0.819, 4.072], "reverse": true, "nice": false, "zero": false},
        "axis": {"orient": "top",
          "values": [-0.8,-0.7,-0.6,-0.5,-0.4,-0.3,-0.2,-0.1,0,0.1,0.2,0.3,0.4,0.5,0.6,0.7,0.8,0.9,1.0,1.1,1.2,1.3,1.4,1.5,1.6,1.7,1.8,1.9,2.0,2.1,2.2,2.3,2.4,2.5,2.6,2.7,2.8,2.9,3.0,3.1,3.2,3.3,3.4,3.5,3.6,3.7,3.8,3.9,4.0],
          "labelExpr": "abs(round(datum.value*10)) % 5 === 0 ? replace(format(datum.value, '.1f'), '\u2212', '-') : ''",
          "tickSize": {"condition": {"test": "abs(round(datum.value*10)) % 5 === 0", "value": -7}, "value": -4},
          "labelPadding": 15,
          "grid": false,
          "title": "Depth (\u03bcm)", "titleX": 273, "titleY": -51, "titleBaseline": "alphabetic"}
      }
    }
  },
  {
    "layer": [
      {
        "data": {"name": "mr"},
        "mark": {"type": "point", "filled": true, "size": 24, "strokeWidth": 0.8, "opacity": 1},
        "encoding": {
          "x": {"field": "e", "type": "quantitative", "scale": {"domain": [300, 5000], "nice": false, "zero": false},
            "axis": {"orient": "bottom", "values": [500,1000,1500,2000,2500,3000,3500,4000,4500,5000], "format": "d",
              "labelExpr": "datum.value % 1000 === 0 ? datum.label : ''",
              "tickSize": 5, "labelPadding": 8, "grid": true, "gridColor": "#9a9a9a", "gridWidth": 1.2,
              "gridOpacity": {"condition": {"test": "datum.value % 1000 === 0 && datum.value < 5000", "value": 1}, "value": 0},
              "title": "Energy (KeV)", "titleX": 275, "titleY": 61, "titleBaseline": "alphabetic"}},
          "y": {"field": "c", "type": "quantitative", "scale": {"domain": [0, 1000], "nice": false},
            "axis": {"orient": "left", "values": [0,100,200,300,400,500,600,700,800,900,1000], "format": "d",
              "labelExpr": "datum.value % 200 === 0 ? datum.label : ''",
              "tickSize": {"condition": {"test": "datum.value % 200 === 0", "value": 5}, "value": -5},
              "labelPadding": 8, "grid": true, "gridColor": "#9a9a9a", "gridWidth": 1.2,
              "gridOpacity": {"condition": {"test": "datum.value % 200 === 0 && datum.value > 0 && datum.value < 1000", "value": 1}, "value": 0},
              "title": "Counts", "titleX": -79, "titleY": 217, "titleAngle": 270, "titleAlign": "center", "titleBaseline": "middle", "titleFontSize": 18.5}},
          "fill": {"datum": "Madrid Random", "type": "nominal",
            "scale": {"domain": ["Madrid Random","Madrid Channel","Madrid 0.2 dpa 290K","JSI Random","JSI Channel","JSI 0.2 dpa 290 K"],
              "range": ["#231f20","#00aec7","#1b4f9f","#ffffff","#ffffff","#ffffff"]},
            "legend": {"orient": "none", "legendX": 314, "legendY": 23, "title": null, "labelFont": "Liberation Sans", "labelFontSize": 19, "labelColor": "#231f20", "labelLimit": 400, "symbolSize": 45, "symbolStrokeWidth": 1.3, "rowPadding": 3, "labelOffset": 19, "padding": 0}},
          "stroke": {"datum": "Madrid Random", "type": "nominal",
            "scale": {"domain": ["Madrid Random","Madrid Channel","Madrid 0.2 dpa 290K","JSI Random","JSI Channel","JSI 0.2 dpa 290 K"],
              "range": ["#231f20","#00aec7","#1b4f9f","#7d1518","#e5177b","#ec2d3a"]}},
          "shape": {"datum": "Madrid Random", "type": "nominal",
            "scale": {"domain": ["Madrid Random","Madrid Channel","Madrid 0.2 dpa 290K","JSI Random","JSI Channel","JSI 0.2 dpa 290 K"],
              "range": ["square","square","square","circle","circle","circle"]}}
        }
      },
      {
        "data": {"name": "mc"},
        "mark": {"type": "point", "filled": true, "size": 30, "strokeWidth": 0.8, "opacity": 1},
        "encoding": {
          "x": {"field": "e", "type": "quantitative"},
          "y": {"field": "c", "type": "quantitative",
            "axis": {"orient": "right", "values": [100,300,500,700,900], "labels": false, "tickSize": -5, "grid": false, "title": null}},
          "fill": {"datum": "Madrid Channel", "type": "nominal"},
          "stroke": {"datum": "Madrid Channel", "type": "nominal"},
          "shape": {"datum": "Madrid Channel", "type": "nominal"}
        }
      },
      {
        "data": {"name": "md"},
        "mark": {"type": "point", "filled": true, "size": 28, "strokeWidth": 0.8, "opacity": 1},
        "encoding": {
          "x": {"field": "e", "type": "quantitative"},
          "y": {"field": "c", "type": "quantitative", "axis": null},
          "fill": {"datum": "Madrid 0.2 dpa 290K", "type": "nominal"},
          "stroke": {"datum": "Madrid 0.2 dpa 290K", "type": "nominal"},
          "shape": {"datum": "Madrid 0.2 dpa 290K", "type": "nominal"}
        }
      },
      {
        "data": {"name": "jr"},
        "mark": {"type": "point", "filled": true, "size": 15, "strokeWidth": 1.5, "opacity": 1},
        "encoding": {
          "x": {"field": "e", "type": "quantitative"},
          "y": {"field": "c", "type": "quantitative", "axis": null},
          "fill": {"datum": "JSI Random", "type": "nominal"},
          "stroke": {"datum": "JSI Random", "type": "nominal"},
          "shape": {"datum": "JSI Random", "type": "nominal"}
        }
      },
      {
        "data": {"name": "jc"},
        "mark": {"type": "point", "filled": true, "size": 15, "strokeWidth": 1.5, "opacity": 1},
        "encoding": {
          "x": {"field": "e", "type": "quantitative"},
          "y": {"field": "c", "type": "quantitative", "axis": null},
          "fill": {"datum": "JSI Channel", "type": "nominal"},
          "stroke": {"datum": "JSI Channel", "type": "nominal"},
          "shape": {"datum": "JSI Channel", "type": "nominal"}
        }
      },
      {
        "data": {"name": "jd"},
        "mark": {"type": "point", "filled": true, "size": 15, "strokeWidth": 1.5, "opacity": 1},
        "encoding": {
          "x": {"field": "e", "type": "quantitative"},
          "y": {"field": "c", "type": "quantitative", "axis": null},
          "fill": {"datum": "JSI 0.2 dpa 290 K", "type": "nominal"},
          "stroke": {"datum": "JSI 0.2 dpa 290 K", "type": "nominal"},
          "shape": {"datum": "JSI 0.2 dpa 290 K", "type": "nominal"}
        }
      }
    ],
    "resolve": {"axis": {"y": "independent"}}
  }
],
"resolve": {"scale": {"x": "independent"}}
}
